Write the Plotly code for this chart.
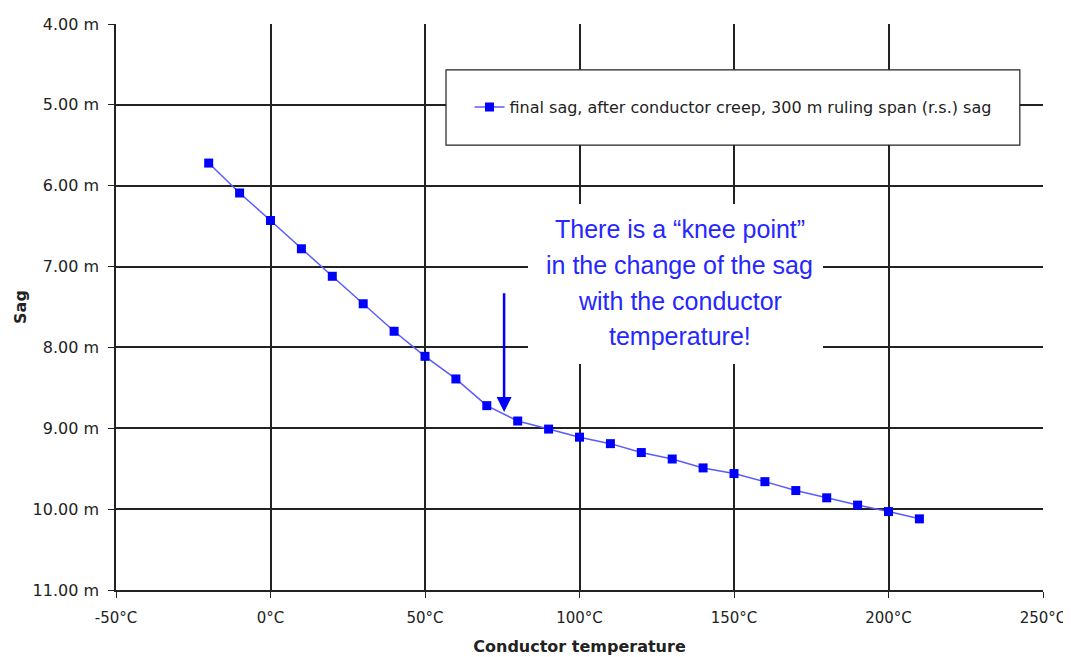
import plotly.graph_objects as go

# Data
temperature_c = [-20, -10, 0, 10, 20, 30, 40, 50, 60, 70, 80, 90, 100, 110, 120,
                 130, 140, 150, 160, 170, 180, 190, 200, 210]
sag_m = [5.72, 6.09, 6.43, 6.78, 7.12, 7.46, 7.80, 8.11, 8.39, 8.72, 8.91, 9.01,
         9.11, 9.19, 9.30, 9.38, 9.49, 9.56, 9.66, 9.77, 9.86, 9.95, 10.03, 10.12]

x_tick_vals = [-50, 0, 50, 100, 150, 200, 250]
x_tick_text = ["-50°C", "0°C", "50°C", "100°C", "150°C", "200°C", "250°C"]
y_tick_vals = [4, 5, 6, 7, 8, 9, 10, 11]
y_tick_text = ["4.00 m", "5.00 m", "6.00 m", "7.00 m", "8.00 m", "9.00 m", "10.00 m", "11.00 m"]

series_name = "final sag, after conductor creep, 300 m ruling span (r.s.) sag"
note_lines = ["There is a “knee point”", "in the change of the sag",
              "with the conductor", "temperature!"]
note_x = 132.5
note_y = 7.20
knee_x = 75.6
arrow_from_y = 7.31
arrow_to_y = 8.80

FONT = "DejaVu Sans, Verdana, sans-serif"
NOTE_FONT = "Liberation Sans, Arial, sans-serif"
GRID = "#222222"

fig = go.Figure()
fig.add_trace(go.Scatter(
    x=temperature_c, y=sag_m, mode="lines+markers", name=series_name,
    line=dict(color="#5a5aff", width=1.5),
    marker=dict(symbol="square", size=9, color="#0000ff", line=dict(width=0)),
))

# legend frame (larger than plotly's own legend box)
fig.add_shape(type="rect", xref="paper", yref="paper",
              x0=0.356, x1=0.975, y0=0.786, y1=0.919,
              fillcolor="white", line=dict(color="#222222", width=1.2), layer="above")
# white backdrop behind the note
fig.add_shape(type="rect", xref="paper", yref="paper",
              x0=0.4444, x1=0.7627, y0=0.3993, y1=0.682,
              fillcolor="white", line=dict(width=0), layer="above")

line_gap = 35.7
n = len(note_lines)
for i, line_text in enumerate(note_lines):
    shift = ((n - 1) / 2 - i) * line_gap
    fig.add_annotation(x=note_x, y=note_y, xref="x", yref="y",
                       text=line_text, showarrow=False, yshift=shift,
                       font=dict(family=NOTE_FONT, size=25, color="#2626ff"),
                       xanchor="center", yanchor="middle")

fig.add_annotation(x=knee_x, y=arrow_to_y, ax=knee_x, ay=arrow_from_y,
                   xref="x", yref="y", axref="x", ayref="y", text="",
                   showarrow=True, arrowhead=2, arrowsize=1.2, arrowwidth=2.5,
                   arrowcolor="#0000ff")

# the page body adds an 8 px offset, so the figure is 8 px smaller
fig.update_layout(
    width=1063, height=649,
    margin=dict(l=108, r=28, t=16, b=67),
    paper_bgcolor="white", plot_bgcolor="white",
    font=dict(family=FONT, size=16, color="#222222"),
    showlegend=True,
    legend=dict(x=0.6656, y=0.853, xanchor="center", yanchor="middle",
                bgcolor="rgba(0,0,0,0)", borderwidth=0,
                font=dict(family=FONT, size=16, color="#222222")),
    xaxis=dict(range=[-50, 250], tickvals=x_tick_vals, ticktext=x_tick_text,
               automargin=False, tickfont=dict(family=FONT, size=15, color="#222222"),
               showgrid=True, gridcolor=GRID, gridwidth=1.5,
               showline=True, linecolor=GRID, linewidth=1.5,
               ticks="outside", ticklen=6, tickcolor=GRID, ticklabelstandoff=7,
               zeroline=False,
               title=dict(text="<b>Conductor temperature</b>", standoff=15,
                          font=dict(family=FONT, size=16, color="#222222"))),
    yaxis=dict(range=[11, 4], tickvals=y_tick_vals, ticktext=y_tick_text,
               automargin=False,
               showgrid=True, gridcolor=GRID, gridwidth=1.5,
               showline=True, linecolor=GRID, linewidth=1.5,
               ticks="outside", ticklen=6, tickcolor=GRID, ticklabelstandoff=6,
               zeroline=False,
               title=dict(text="<b>Sag</b>", standoff=2,
                          font=dict(family=FONT, size=16, color="#222222"))),
)

fig.write_html("out.html")
